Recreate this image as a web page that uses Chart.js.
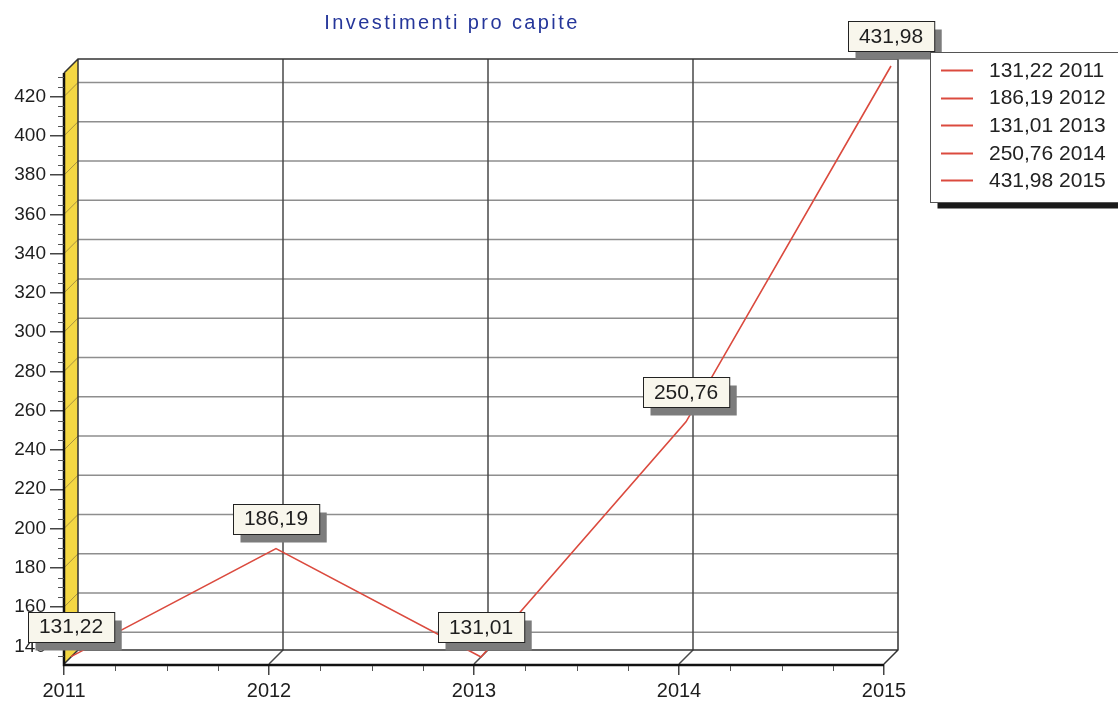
<!DOCTYPE html>
<html>
<head>
<meta charset="utf-8">
<script src="https://cdn.jsdelivr.net/npm/chart.js@4/dist/chart.umd.min.js"></script>
<style>
  html, body { margin: 0; padding: 0; background: #fff; }
  canvas { display: block; }
</style>
</head>
<body>
<canvas id="myChart" width="1118" height="705"></canvas>
<script>
"use strict";

const years = ['2011', '2012', '2013', '2014', '2015'];
const investPerCapita = [131.22, 186.19, 131.01, 250.76, 431.98];
const yTickValues = [140, 160, 180, 200, 220, 240, 260, 280, 300, 320, 340, 360, 380, 400, 420];
const chartTitle = 'Investimenti pro capite';

// axis runs from the lowest to the highest value, as the old 3D charts did
const yMin = Math.min(...investPerCapita);
const yMax = Math.max(...investPerCapita);

// depth of the fake 3D box
const DX = 14;
const DY = -14;
const FONT = '"Liberation Sans", Arial, sans-serif';
const LINE_RED = '#db4a3e';

function fmt(v) {
    return v.toFixed(2).replace('.', ',');
}

const box3d = {
    id: 'box3d',
    beforeDraw(chart) {
        const ctx = chart.ctx;
        ctx.save();
        ctx.fillStyle = '#fff';
        ctx.fillRect(0, 0, chart.width, chart.height);
        ctx.restore();
    },
    beforeDatasetsDraw(chart) {
        const { ctx, chartArea: a, scales: { x, y } } = chart;
        ctx.save();

        // yellow side wall
        ctx.fillStyle = '#f4d744';
        ctx.beginPath();
        ctx.moveTo(a.left, a.top);
        ctx.lineTo(a.left + DX, a.top + DY);
        ctx.lineTo(a.left + DX, a.bottom + DY);
        ctx.lineTo(a.left, a.bottom);
        ctx.closePath();
        ctx.fill();

        // grid lines carried over the side wall
        ctx.strokeStyle = '#a8923e';
        ctx.lineWidth = 1;
        yTickValues.forEach(v => {
            const py = y.getPixelForValue(v);
            ctx.beginPath();
            ctx.moveTo(a.left, py);
            ctx.lineTo(a.left + DX, py + DY);
            ctx.stroke();
        });

        // horizontal grid on the back wall
        ctx.strokeStyle = '#8e8e8e';
        ctx.lineWidth = 1.5;
        yTickValues.forEach(v => {
            const py = y.getPixelForValue(v) + DY;
            ctx.beginPath();
            ctx.moveTo(a.left + DX, py);
            ctx.lineTo(a.right + DX, py);
            ctx.stroke();
        });

        // vertical grid on the back wall and across the floor
        ctx.strokeStyle = '#4a4a4a';
        ctx.lineWidth = 1.5;
        for (let i = 1; i < years.length - 1; i++) {
            const px = x.getPixelForValue(i);
            ctx.beginPath();
            ctx.moveTo(px + DX, a.top + DY);
            ctx.lineTo(px + DX, a.bottom + DY);
            ctx.lineTo(px, a.bottom);
            ctx.stroke();
        }

        // box frame
        ctx.strokeStyle = '#333';
        ctx.lineWidth = 1.5;
        ctx.beginPath();
        ctx.moveTo(a.left, a.top);
        ctx.lineTo(a.left + DX, a.top + DY);
        ctx.lineTo(a.right + DX, a.top + DY);
        ctx.lineTo(a.right + DX, a.bottom + DY);
        ctx.lineTo(a.right, a.bottom);
        ctx.moveTo(a.left + DX, a.top + DY);
        ctx.lineTo(a.left + DX, a.bottom + DY);
        ctx.lineTo(a.right + DX, a.bottom + DY);
        ctx.moveTo(a.left + DX, a.bottom + DY);
        ctx.lineTo(a.left, a.bottom);
        ctx.stroke();

        // front edges
        ctx.strokeStyle = '#111';
        ctx.lineWidth = 2.5;
        ctx.beginPath();
        ctx.moveTo(a.left, a.top);
        ctx.lineTo(a.left, a.bottom + 1);
        ctx.lineTo(a.right, a.bottom + 1);
        ctx.stroke();

        // minor ticks
        ctx.strokeStyle = '#555';
        ctx.lineWidth = 1;
        for (let v = Math.ceil(yMin / 5) * 5; v <= yMax; v += 5) {
            if (v % 20 === 0) continue;
            const py = Math.round(y.getPixelForValue(v)) + 0.5;
            ctx.beginPath();
            ctx.moveTo(a.left - 6, py);
            ctx.lineTo(a.left, py);
            ctx.stroke();
        }
        for (let i = 0; i < years.length - 1; i++) {
            const p0 = x.getPixelForValue(i);
            const p1 = x.getPixelForValue(i + 1);
            for (let k = 1; k < 4; k++) {
                const px = Math.round(p0 + (p1 - p0) * k / 4) + 0.5;
                ctx.beginPath();
                ctx.moveTo(px, a.bottom + 2);
                ctx.lineTo(px, a.bottom + 7);
                ctx.stroke();
            }
        }
        ctx.restore();

        // the series sits half way into the box
        ctx.save();
        ctx.translate(DX / 2, DY / 2);
    },
    afterDatasetsDraw(chart) {
        const ctx = chart.ctx;
        ctx.restore();

        // value labels
        const meta = chart.getDatasetMeta(0);
        ctx.save();
        ctx.font = '21px ' + FONT;
        ctx.textAlign = 'center';
        ctx.textBaseline = 'middle';
        meta.data.forEach((pt, i) => {
            const text = fmt(investPerCapita[i]);
            const w = ctx.measureText(text).width + 22;
            const h = 30;
            const cx = pt.x + DX / 2;
            const cy = pt.y + DY / 2 - 30;
            const bx = Math.round(cx - w / 2) + 0.5;
            const by = Math.round(cy - h / 2) + 0.5;
            ctx.fillStyle = '#7c7c7c';
            ctx.fillRect(bx + 7, by + 8, w, h);
            ctx.fillStyle = '#f8f6ec';
            ctx.fillRect(bx, by, w, h);
            ctx.strokeStyle = '#222';
            ctx.lineWidth = 1;
            ctx.strokeRect(bx, by, w, h);
            ctx.fillStyle = '#1e1e1e';
            ctx.fillText(text, cx, cy + 1);
        });
        ctx.restore();
    },
    afterDraw(chart) {
        const ctx = chart.ctx;
        ctx.save();

        // title
        ctx.font = '20px ' + FONT;
        ctx.letterSpacing = '2.4px';
        ctx.fillStyle = '#25369a';
        ctx.textAlign = 'center';
        ctx.textBaseline = 'middle';
        ctx.fillText(chartTitle, 452, 23);
        ctx.letterSpacing = '0px';

        // legend box
        const lx = 930.5, ly = 52.5, lw = 190, lh = 150;
        ctx.fillStyle = '#1a1a1a';
        ctx.fillRect(lx + 7, ly + lh, lw, 6);
        ctx.fillStyle = '#fff';
        ctx.fillRect(lx, ly, lw, lh);
        ctx.strokeStyle = '#555';
        ctx.lineWidth = 1;
        ctx.strokeRect(lx, ly, lw, lh);

        ctx.font = '21px ' + FONT;
        ctx.textAlign = 'left';
        ctx.textBaseline = 'middle';
        years.forEach((yr, i) => {
            const ry = 70 + i * 27.6;
            ctx.strokeStyle = LINE_RED;
            ctx.lineWidth = 2;
            ctx.beginPath();
            ctx.moveTo(941, Math.round(ry) + 0.5);
            ctx.lineTo(973, Math.round(ry) + 0.5);
            ctx.stroke();
            ctx.fillStyle = '#222';
            ctx.fillText(fmt(investPerCapita[i]) + ' ' + yr, 989, ry + 1);
        });
        ctx.restore();
    }
};

const ctx = document.getElementById('myChart').getContext('2d');
const myChart = new Chart(ctx, {
    type: 'line',
    data: {
        labels: years,
        datasets: [{
            label: chartTitle,
            data: investPerCapita,
            borderColor: LINE_RED,
            borderWidth: 1.6,
            pointRadius: 0,
            tension: 0,
            fill: false,
            clip: false
        }]
    },
    options: {
        responsive: false,
        animation: false,
        layout: {
            padding: { top: 73, right: 234, left: 0, bottom: 0 }
        },
        plugins: {
            legend: { display: false },
            title: { display: false },
            tooltip: { enabled: false }
        },
        scales: {
            x: {
                offset: false,
                grid: {
                    drawOnChartArea: false,
                    tickLength: 11,
                    tickColor: '#444',
                    lineWidth: 1.5
                },
                border: { display: false },
                ticks: {
                    color: '#1e1e1e',
                    padding: 4,
                    maxRotation: 0,
                    font: { family: FONT, size: 20 }
                },
                afterFit(scale) {
                    scale.height = 41;
                }
            },
            y: {
                min: yMin,
                max: yMax,
                grid: {
                    drawOnChartArea: false,
                    tickLength: 14,
                    tickColor: '#444',
                    lineWidth: 1.5
                },
                border: { display: false },
                ticks: {
                    color: '#1e1e1e',
                    padding: 4,
                    font: { family: FONT, size: 19 }
                },
                afterBuildTicks(scale) {
                    scale.ticks = yTickValues.map(v => ({ value: v }));
                },
                afterFit(scale) {
                    scale.width = 64;
                }
            }
        }
    },
    plugins: [box3d]
});
</script>
</body>
</html>
